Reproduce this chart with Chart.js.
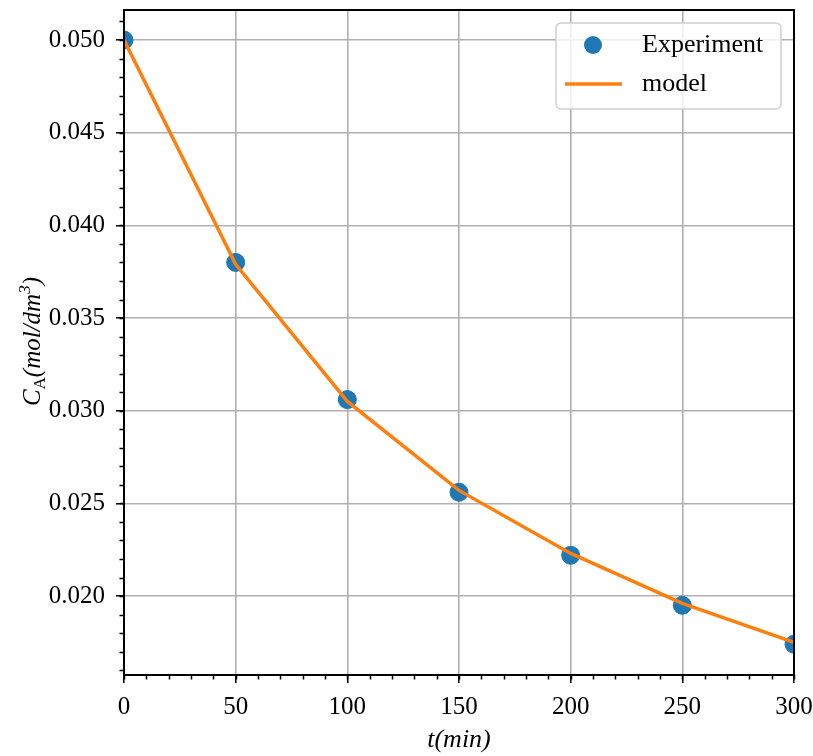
<!DOCTYPE html>
<html>
<head>
<meta charset="utf-8">
<script src="https://cdn.jsdelivr.net/npm/chart.js@4"></script>
<style>
  html, body { margin: 0; padding: 0; background: #fff; }
  #wrap { width: 813px; height: 756px; }
</style>
</head>
<body>
<div id="wrap"><canvas id="chart" width="813" height="756"></canvas></div>
<script>
// time points (min)
const times = [0, 50, 100, 150, 200, 250, 300];
// measured concentration C_A (mol/dm3)
const experiment = [0.0500, 0.0380, 0.0306, 0.0256, 0.0222, 0.0195, 0.0174];
// fitted model at the same times
const model = [0.0500, 0.0379, 0.0305, 0.0257, 0.0223, 0.0196, 0.0175];

const xTicks = [0, 50, 100, 150, 200, 250, 300];
const yTicks = [0.020, 0.025, 0.030, 0.035, 0.040, 0.045, 0.050];
const xMinor = 10;
const yMinor = 0.001;

const FONT = "'Liberation Serif', 'DejaVu Serif', serif";
const BLUE = "#1f77b4";
const ORANGE = "#ff7f0e";

// minor ticks, frame, legend, y title
const extras = {
  id: "extras",
  afterDatasetsDraw(chart) {
    const ctx = chart.ctx;
    const a = chart.chartArea;
    const xs = chart.scales.x, ys = chart.scales.y;
    ctx.save();
    ctx.strokeStyle = "#000";
    ctx.lineWidth = 1.5;
    ctx.beginPath();
    for (let v = xs.min; v <= xs.max + 1e-9; v += xMinor) {
      const px = Math.round(xs.getPixelForValue(v)) + 0.5;
      ctx.moveTo(px, a.bottom);
      ctx.lineTo(px, a.bottom + 4.5);
    }
    const start = Math.ceil(ys.min / yMinor) * yMinor;
    for (let v = start; v <= ys.max; v += yMinor) {
      const py = Math.round(ys.getPixelForValue(v)) + 0.5;
      ctx.moveTo(a.left, py);
      ctx.lineTo(a.left - 4.5, py);
    }
    ctx.stroke();

    // frame
    ctx.lineWidth = 2;
    ctx.strokeRect(a.left, a.top, a.right - a.left, a.bottom - a.top);

    // legend
    const bx = a.right - 238, by = a.top + 13, bw = 225, bh = 86;
    ctx.beginPath();
    ctx.roundRect(bx, by, bw, bh, 5);
    ctx.fillStyle = "rgba(255,255,255,0.8)";
    ctx.fill();
    ctx.strokeStyle = "#d0d0d0";
    ctx.lineWidth = 1.5;
    ctx.stroke();

    const ds = chart.data.datasets;
    ctx.fillStyle = BLUE;
    ctx.beginPath();
    ctx.arc(bx + 37, by + 22, 9, 0, Math.PI * 2);
    ctx.fill();
    ctx.strokeStyle = ORANGE;
    ctx.lineWidth = 3.5;
    ctx.beginPath();
    ctx.moveTo(bx + 9, by + 61);
    ctx.lineTo(bx + 66, by + 61);
    ctx.stroke();
    ctx.fillStyle = "#000";
    ctx.font = "26px " + FONT;
    ctx.textBaseline = "middle";
    ctx.textAlign = "left";
    ctx.fillText(ds[1].label, bx + 86, by + 22);
    ctx.fillText(ds[0].label, bx + 86, by + 61);

    // y axis title C_A(mol/dm^3)
    ctx.translate(40, (a.top + a.bottom) / 2);
    ctx.rotate(-Math.PI / 2);
    const parts = [
      ["C", 25, 0], ["A", 17, 5], ["(mol/dm", 25, 0], ["3", 17, -10], [")", 25, 0]
    ];
    let total = 0;
    parts.forEach(p => { ctx.font = "italic " + p[1] + "px " + FONT; total += ctx.measureText(p[0]).width; });
    let x = -total / 2;
    ctx.textBaseline = "alphabetic";
    parts.forEach(p => {
      ctx.font = (p[0] === "A" ? "" : "italic ") + p[1] + "px " + FONT;
      ctx.fillText(p[0], x, p[2]);
      x += ctx.measureText(p[0]).width;
    });
    ctx.restore();
  }
};

new Chart(document.getElementById("chart"), {
  type: "scatter",
  data: {
    datasets: [
      {
        type: "line",
        label: "model",
        data: times.map((t, i) => ({ x: t, y: model[i] })),
        borderColor: ORANGE,
        borderWidth: 3.5,
        pointRadius: 0,
        fill: false,
        tension: 0,
        order: 0
      },
      {
        label: "Experiment",
        data: times.map((t, i) => ({ x: t, y: experiment[i] })),
        backgroundColor: BLUE,
        borderColor: BLUE,
        pointRadius: 9,
        pointHoverRadius: 9,
        clip: 0,
        order: 1
      }
    ]
  },
  options: {
    responsive: false,
    animation: false,
    layout: { padding: { top: 10, right: 19, left: 0, bottom: 0 } },
    plugins: {
      legend: { display: false },
      tooltip: { enabled: false }
    },
    scales: {
      x: {
        type: "linear",
        min: 0,
        max: 300,
        afterBuildTicks: s => { s.ticks = xTicks.map(v => ({ value: v })); },
        afterFit: s => { s.height = 81; s.paddingLeft = 0; s.paddingRight = 0; },
        grid: { color: "#b0b0b0", lineWidth: 1.6, tickColor: "#000", tickLength: 8, tickWidth: 1.5 },
        border: { color: "#000", width: 2 },
        ticks: { color: "#000", padding: 9, font: { family: FONT, size: 25 }, maxRotation: 0 },
        title: { display: true, text: "t(min)", color: "#000", font: { family: FONT, size: 26, style: "italic" }, padding: { top: 0, bottom: 0 } }
      },
      y: {
        type: "linear",
        min: 0.01574,
        max: 0.05162,
        afterBuildTicks: s => { s.ticks = yTicks.map(v => ({ value: v })); },
        afterFit: s => { s.width = 124; s.paddingTop = 0; s.paddingBottom = 0; },
        grid: { color: "#b0b0b0", lineWidth: 1.6, tickColor: "#000", tickLength: 8, tickWidth: 1.5 },
        border: { color: "#000", width: 2 },
        ticks: { color: "#000", padding: 11, font: { family: FONT, size: 25 }, callback: v => v.toFixed(3) }
      }
    }
  },
  plugins: [extras]
});
</script>
</body>
</html>
